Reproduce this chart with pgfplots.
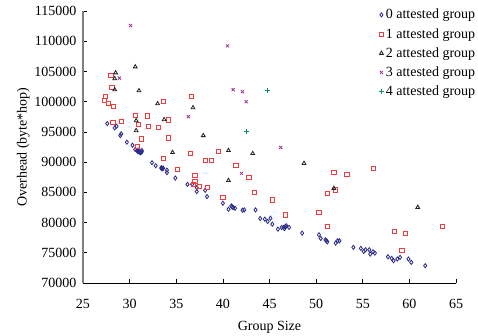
\documentclass[border=0pt]{standalone}
\usepackage{fontspec}
\setmainfont{Liberation Serif}
\usepackage{pgfplots}
\pgfplotsset{compat=1.18}
\definecolor{cblue}{HTML}{2A2A8A}
\definecolor{cred}{HTML}{F03C3C}
\definecolor{cblack}{HTML}{222222}
\definecolor{cpurple}{HTML}{A0309A}
\definecolor{cgreen}{HTML}{109050}
\begin{document}
\begin{tikzpicture}
\begin{axis}[
  scale only axis,
  width=373pt, height=272pt,
  xmin=25, xmax=65, ymin=70000, ymax=115000,
  scaled y ticks=false, scaled x ticks=false,
  xtick={25,30,35,40,45,50,55,60,65},
  xticklabels={25,30,35,40,45,50,55,60,65},
  ytick={70000,75000,80000,85000,90000,95000,100000,105000,110000,115000},
  yticklabels={70000,75000,80000,85000,90000,95000,100000,105000,110000,115000},
  axis x line*=bottom, axis y line*=left,
  x axis line style={black, line width=0.8pt, -},
  y axis line style={gray, line width=1.3pt, -},
  tick align=inside,
  major tick length=4pt,
  tick style={black, line width=0.6pt},
  tick label style={font=\fontsize{14}{16}\selectfont},
  label style={font=\fontsize{14}{16}\selectfont},
  yticklabel style={xshift=-3pt},
  xticklabel style={yshift=-13pt},
  xlabel={Group Size},
  ylabel={Overhead (byte*hop)},
  xlabel style={yshift=-5pt},
  ylabel style={yshift=-2pt},
  clip=false,
  legend cell align=left,
  legend style={at={(0.785,1.022)}, anchor=north west, draw=none, fill=none,
    font=\fontsize{14}{16}\selectfont, row sep=4pt,
    /tikz/every even column/.append style={column sep=2pt}},
]
\addplot[only marks, mark=diamond, mark size=2.1pt, color=cblue, line width=0.8pt] coordinates {
(27.6,96380) (28.4,95670) (28.6,95930) (29.0,94400) (29.1,94680) (29.7,93300)
(30.3,92800) (30.6,92090) (30.8,91930) (30.9,91700) (31.0,91760) (31.1,91600)
(31.2,91550) (31.3,91930) (31.3,91700) (30.9,92000) (32.4,89900) (32.8,89400)
(33.4,89080) (33.5,88900) (33.6,89000) (33.4,88950) (34.0,88680) (34.0,88250)
(34.9,87360) (36.2,86320) (36.7,86320) (37.2,85780) (37.2,85120) (38.1,85340)
(38.3,84300) (40.0,83200) (40.6,82200) (40.9,82750) (41.1,82480) (41.3,82370)
(41.0,82600) (42.1,82040) (42.3,82090) (43.5,82090) (44.0,80670) (44.5,80560)
(44.8,80180) (45.1,80720) (45.3,79730) (45.9,78910) (46.3,79190) (46.5,79190)
(46.6,79000) (46.7,79360) (46.8,79470) (47.1,79190) (48.5,78250) (50.3,77970)
(50.5,77370) (51.0,77150) (51.2,76810) (51.1,77000) (52.1,76600) (52.3,76980)
(52.5,76980) (54.0,75900) (54.8,75730) (55.1,75230) (55.3,75500) (55.7,75500)
(55.8,74790) (56.1,75170) (56.3,74950) (57.7,74340) (58.1,74080) (58.3,73690)
(58.7,73970) (59.0,74240) (59.9,73970) (60.2,73420) (61.7,72860)
};
\addlegendentry{0 attested group}
\addplot[only marks, mark=square, mark size=2.1pt, color=cred, line width=0.8pt] coordinates {
(28.0,104290) (28.1,102310) (27.4,100830) (27.3,100170) (27.7,99670) (28.3,99250)
(33.6,100000) (36.6,100830) (30.6,97700) (31.9,97650) (28.2,96590) (29.1,96700)
(30.9,96210) (32.0,95880) (33.1,95700) (34.2,97000) (34.2,94000) (31.3,93850)
(30.8,92640) (33.6,90590) (36.5,91400) (35.1,88800) (37.0,87860) (37.0,86770)
(36.8,86320) (37.5,86040) (38.1,90280) (38.8,90330) (38.3,85780) (39.5,91810)
(40.0,84130) (41.4,89460) (42.8,87430) (43.4,84960) (45.3,83740) (46.7,81270)
(50.3,81690) (51.9,88250) (53.3,87920) (56.1,88910) (51.2,84890) (52.1,85390)
(51.2,79400) (58.4,78530) (59.6,78200) (59.2,75450) (63.5,79360)
};
\addlegendentry{1 attested group}
\addplot[only marks, mark=triangle, mark size=2.2pt, color=cblack, line width=0.8pt] coordinates {
(30.6,105770) (28.5,104780) (28.4,103800) (28.4,101980) (31.0,101820) (33.0,99670)
(36.8,99000) (30.7,96870) (33.7,97040) (30.7,95220) (37.9,94400) (34.6,91600)
(40.6,91930) (43.2,91430) (40.6,86980) (48.7,89790) (51.9,85670) (60.9,82530)
};
\addlegendentry{2 attested group}
\addplot[only marks, mark=x, mark size=2.2pt, color=cpurple, line width=0.8pt] coordinates {
(30.1,112600) (40.5,109230) (28.9,103900) (41.1,102000) (42.1,101650) (42.5,100000)
(36.3,97530) (46.2,92420) (42.0,88140)
};
\addlegendentry{3 attested group}
\addplot[only marks, mark=+, mark size=2.4pt, color=cgreen, line width=0.8pt] coordinates {
(44.8,101800) (42.5,95060)
};
\addlegendentry{4 attested group}
\end{axis}
\pgfresetboundingbox
\path[use as bounding box] ([shift={(-83pt,-52pt)}]current axis.south west) rectangle ++(478pt,335pt);
\end{tikzpicture}
\end{document}
